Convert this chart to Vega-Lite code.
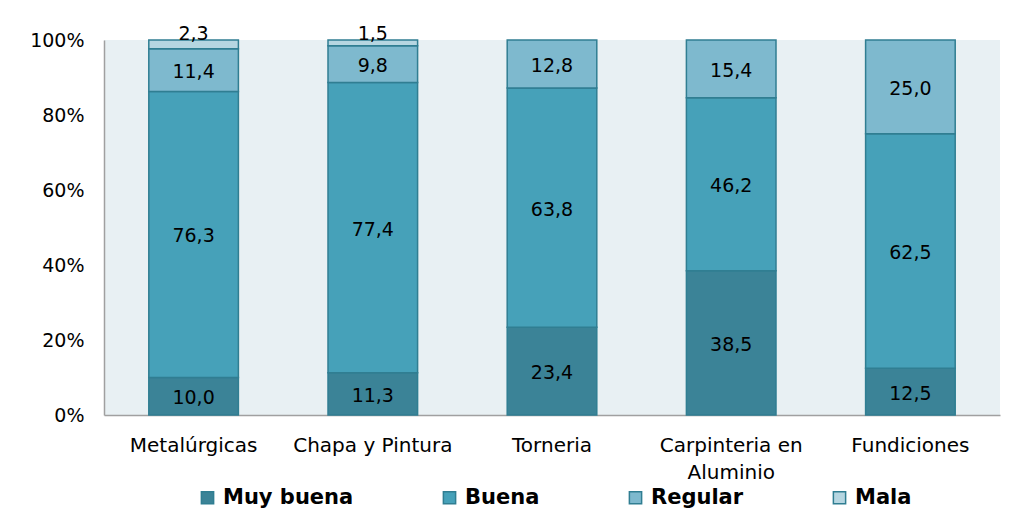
{
  "$schema": "https://vega.github.io/schema/vega-lite/v6.json",
  "width": 896,
  "height": 375,
  "autosize": "none",
  "padding": {"left": 104, "top": 40, "right": 15, "bottom": 105},
  "background": "white",
  "config": {
    "font": "DejaVu Sans",
    "view": {"fill": "#E8F0F3", "stroke": null},
    "locale": {"number": {"decimal": ",", "thousands": ".", "grouping": [3], "currency": ["", " €"]}}
  },
  "data": {
    "values": [
      {"rubro": "Metalúrgicas", "cat": "Muy buena", "n": 1, "v": 10.0},
      {"rubro": "Metalúrgicas", "cat": "Buena", "n": 2, "v": 76.3},
      {"rubro": "Metalúrgicas", "cat": "Regular", "n": 3, "v": 11.4},
      {"rubro": "Metalúrgicas", "cat": "Mala", "n": 4, "v": 2.3},
      {"rubro": "Chapa y Pintura", "cat": "Muy buena", "n": 1, "v": 11.3},
      {"rubro": "Chapa y Pintura", "cat": "Buena", "n": 2, "v": 77.4},
      {"rubro": "Chapa y Pintura", "cat": "Regular", "n": 3, "v": 9.8},
      {"rubro": "Chapa y Pintura", "cat": "Mala", "n": 4, "v": 1.5},
      {"rubro": "Torneria", "cat": "Muy buena", "n": 1, "v": 23.4},
      {"rubro": "Torneria", "cat": "Buena", "n": 2, "v": 63.8},
      {"rubro": "Torneria", "cat": "Regular", "n": 3, "v": 12.8},
      {"rubro": "Carpinteria en Aluminio", "cat": "Muy buena", "n": 1, "v": 38.5},
      {"rubro": "Carpinteria en Aluminio", "cat": "Buena", "n": 2, "v": 46.2},
      {"rubro": "Carpinteria en Aluminio", "cat": "Regular", "n": 3, "v": 15.4},
      {"rubro": "Fundiciones", "cat": "Muy buena", "n": 1, "v": 12.5},
      {"rubro": "Fundiciones", "cat": "Buena", "n": 2, "v": 62.5},
      {"rubro": "Fundiciones", "cat": "Regular", "n": 3, "v": 25.0}
    ]
  },
  "encoding": {
    "x": {
      "field": "rubro",
      "type": "nominal",
      "sort": ["Metalúrgicas", "Chapa y Pintura", "Torneria", "Carpinteria en Aluminio", "Fundiciones"],
      "scale": {"paddingInner": 0.5, "paddingOuter": 0.25},
      "axis": {
        "title": null,
        "labelAngle": 0,
        "labelFontSize": 20,
        "labelColor": "#000000",
        "labelPadding": 20,
        "labelLineHeight": 27,
        "labelExpr": "datum.label == 'Carpinteria en Aluminio' ? ['Carpinteria en', 'Aluminio'] : datum.label",
        "ticks": false,
        "domainColor": "#A0A0A0",
        "domainWidth": 1.5
      }
    }
  },
  "layer": [
    {
      "mark": {"type": "bar", "stroke": "#307E92", "strokeWidth": 1.5},
      "encoding": {
        "y": {
          "field": "v",
          "type": "quantitative",
          "stack": "normalize",
          "scale": {"domain": [0, 1]},
          "axis": {
            "title": null,
            "format": ".0%",
            "values": [0, 0.2, 0.4, 0.6, 0.8, 1],
            "grid": false,
            "ticks": false,
            "labelFontSize": 19,
            "labelColor": "#000000",
            "labelPadding": 20,
            "domainColor": "#A0A0A0",
            "domainWidth": 1.5
          }
        },
        "order": {"field": "n", "type": "quantitative", "sort": "ascending"},
        "color": {
          "field": "cat",
          "type": "nominal",
          "scale": {
            "domain": ["Muy buena", "Buena", "Regular", "Mala"],
            "range": ["#3B8397", "#46A1B9", "#7EB9CE", "#B6D6E1"]
          },
          "legend": {
            "title": null,
            "orient": "none",
            "direction": "horizontal",
            "legendX": 93,
            "legendY": 447,
            "symbolType": "square",
            "symbolSize": 150,
            "symbolStrokeColor": "#307E92",
            "symbolStrokeWidth": 1.5,
            "symbolOpacity": 1,
            "labelFontSize": 21,
            "labelFontWeight": "bold",
            "labelColor": "#000000",
            "labelOffset": 5,
            "columnPadding": 85
          }
        }
      }
    },
    {
      "mark": {"type": "text", "fontSize": 19, "color": "#000000", "dy": 2},
      "encoding": {
        "y": {"field": "v", "type": "quantitative", "stack": "normalize", "bandPosition": 0.5},
        "detail": {"field": "cat", "type": "nominal"},
        "order": {"field": "n", "type": "quantitative", "sort": "ascending"},
        "text": {
          "condition": {"test": "datum.cat == 'Mala'", "value": ""},
          "field": "v",
          "type": "quantitative",
          "format": ".1f"
        }
      }
    },
    {
      "transform": [{"filter": "datum.cat == 'Mala'"}],
      "mark": {"type": "text", "fontSize": 19, "color": "#000000", "baseline": "alphabetic"},
      "encoding": {
        "y": {"field": "v", "type": "quantitative", "stack": "normalize"},
        "text": {"field": "v", "type": "quantitative", "format": ".1f"}
      }
    }
  ]
}
